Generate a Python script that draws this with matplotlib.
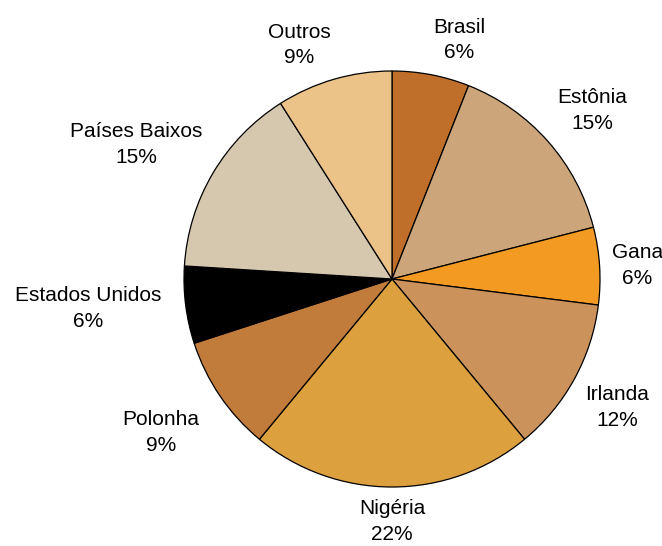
import numpy as np
import matplotlib
matplotlib.use('Agg')
from matplotlib import pyplot as plt

plt.rcParams['font.family'] = ['Liberation Sans', 'DejaVu Sans']

countries = ['Brasil', 'Estônia', 'Gana', 'Irlanda', 'Nigéria',
             'Polonha', 'Estados Unidos', 'Países Baixos', 'Outros']
shares = [6, 15, 6, 12, 22, 9, 6, 15, 9]
colors = ['#BF6F2A', '#CCA57B', '#F39A22', '#CB935B', '#DDA03F',
          '#C17B3B', '#000000', '#D6C7AF', '#EBC388']

W, H = 662, 546
fig = plt.figure(figsize=(W / 100, H / 100), dpi=100)

# pie centre and radius in pixels
cx, cy, r = 392, 279, 208
ax = fig.add_axes([(cx - r) / W, (H - cy - r) / H, 2 * r / W, 2 * r / H])

wedges, _ = ax.pie(shares, colors=colors, startangle=90, counterclock=False,
                   radius=1.0,
                   wedgeprops=dict(edgecolor='black', linewidth=0.9))
ax.set_xlim(-1, 1)
ax.set_ylim(-1, 1)
ax.set_aspect('equal')
ax.axis('off')

total = sum(shares)
for w, name, val in zip(wedges, countries, shares):
    ang = np.deg2rad((w.theta1 + w.theta2) / 2)
    x, y = np.cos(ang), np.sin(ang)
    d = 1.06
    if abs(x) < 0.15:
        ha = 'center'
    else:
        ha = 'left' if x > 0 else 'right'
    if y > 0.35:
        va = 'bottom'
    elif y < -0.35:
        va = 'top'
    else:
        va = 'center'
    # lower-left labels sit a bit further out in the original
    if x < -0.5 and va != 'bottom':
        d += 0.06
    ax.text(d * x, d * y, f'{name}\n{round(val / total * 100)}%',
            ha=ha, va=va, multialignment='center', fontsize=15,
            linespacing=1.45, clip_on=False)

fig.savefig('out.png', dpi=100)
